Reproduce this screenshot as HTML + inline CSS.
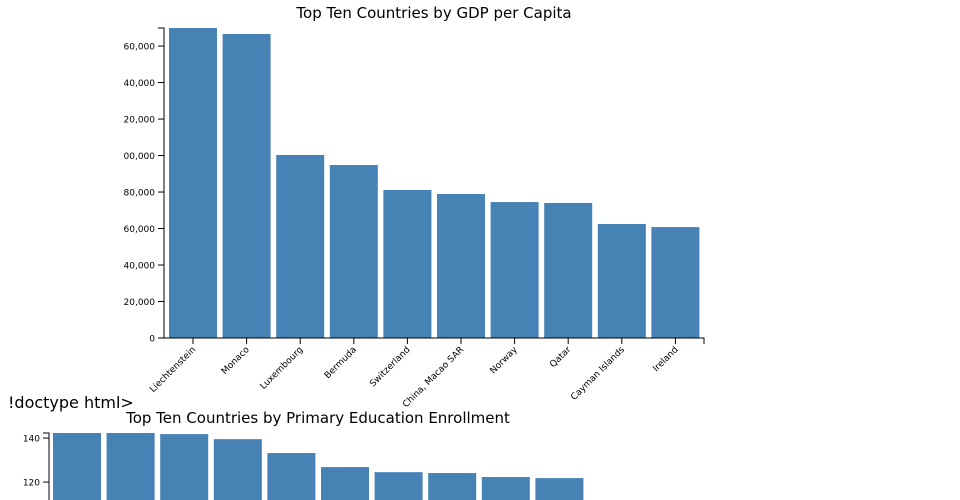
<!DOCTYPE html>
<html><head><meta charset="utf-8"><style>
body{margin:0;background:#fff;width:960px;height:500px;overflow:hidden;font-family:"DejaVu Sans","Liberation Sans",sans-serif;}
svg{position:absolute;left:0;top:0}
.t{font-size:15px;fill:#000}
.tk{font-size:9px;fill:#000}
</style></head><body>
<svg id="c" width="960" height="500">
<defs><clipPath id="clipTop"><rect x="123" y="0" width="837" height="344"/><rect x="0" y="344" width="960" height="100"/></clipPath></defs>
<text x="8" y="408" style="font-size:16px">!doctype html&gt;</text>
</svg>
<script>
const gdpCountries=["Liechtenstein","Monaco","Luxembourg","Bermuda","Switzerland","China, Macao SAR","Norway","Qatar","Cayman Islands","Ireland"];
const gdpValues=[169900,166600,100300,94800,81100,78900,74500,74000,62500,60800];
const gdpTicks=[0,20000,40000,60000,80000,100000,120000,140000,160000];
const eduCountries=["Country A","Country B","Country C","Country D","Country E","Country F","Country G","Country H","Country I","Country J"];
const eduValues=[142.3,142.3,141.8,139.5,133.2,126.8,124.5,124.1,122.3,121.8];
const eduTicks=[120,140];

const NS="http://www.w3.org/2000/svg";
const svg=document.getElementById('c');
function mk(t,a,p){const e=document.createElementNS(NS,t);for(const k in a)e.setAttribute(k,a[k]);(p||svg).appendChild(e);return e;}
function fmt(v){return v.toLocaleString('en-US');}

function chart(o){
  const g=mk('g',o.clip?{'clip-path':'url(#'+o.clip+')'}:{});
  
  
  const max=Math.max(...o.values);
  const y=v=>o.top+(o.bottom-o.top)*(1-v/max);
  const step=53.6, bw=48;
  const x=i=>o.left+o.off+i*step;
  o.cats.forEach((c,i)=>{
    const yt=y(o.values[i]);
    const yb=Math.min(o.bottom,500);
    const r=mk('rect',{x:x(i),y:yt,width:bw,height:Math.max(0,yb-yt),fill:'steelblue'},g);
    
    
    if(o.xlabels){
      const cx=x(i)+bw/2;
      const t=mk('text',{x:cx+3,y:o.bottom+12,'text-anchor':'end',class:'tk',transform:`rotate(-45 ${cx+3} ${o.bottom+12})`},g);
      t.textContent=c;
      
      
      mk('line',{x1:cx,x2:cx,y1:o.bottom,y2:o.bottom+6,stroke:'#000'},g);
    }
  });
  const ax=mk('path',{d:`M${o.left-6},${o.top}H${o.left}V${Math.min(o.bottom,501)}`+(o.xlabels?`H${o.right}V${o.bottom+6}`:''),fill:'none',stroke:'#000'},g);
  
  
  o.ticks.forEach(v=>{
    const yy=y(v);
    mk('line',{x1:o.left-6,x2:o.left,y1:yy,y2:yy,stroke:'#000'},g);
    const t=mk('text',{x:o.left-9,y:yy+3.5,'text-anchor':'end',class:'tk'},g);
    t.textContent=fmt(v);
    
    
  });
  const tt=mk('text',{x:(o.left+o.right)/2,y:o.titleY,'text-anchor':'middle',class:'t'});
  tt.textContent=o.title;
  
  
}
chart({name:'gdp-chart',clip:'clipTop',off:5,cats:gdpCountries,values:gdpValues,ticks:gdpTicks,left:164,right:704,top:28,bottom:338,titleY:18,xlabels:true,title:'Top Ten Countries by GDP per Capita'});
chart({name:'education-chart',off:4,cats:eduCountries,values:eduValues,ticks:eduTicks,left:49,right:587,top:433,bottom:433+142.3*2.2,titleY:423,xlabels:false,title:'Top Ten Countries by Primary Education Enrollment'});
</script>
</body></html>
